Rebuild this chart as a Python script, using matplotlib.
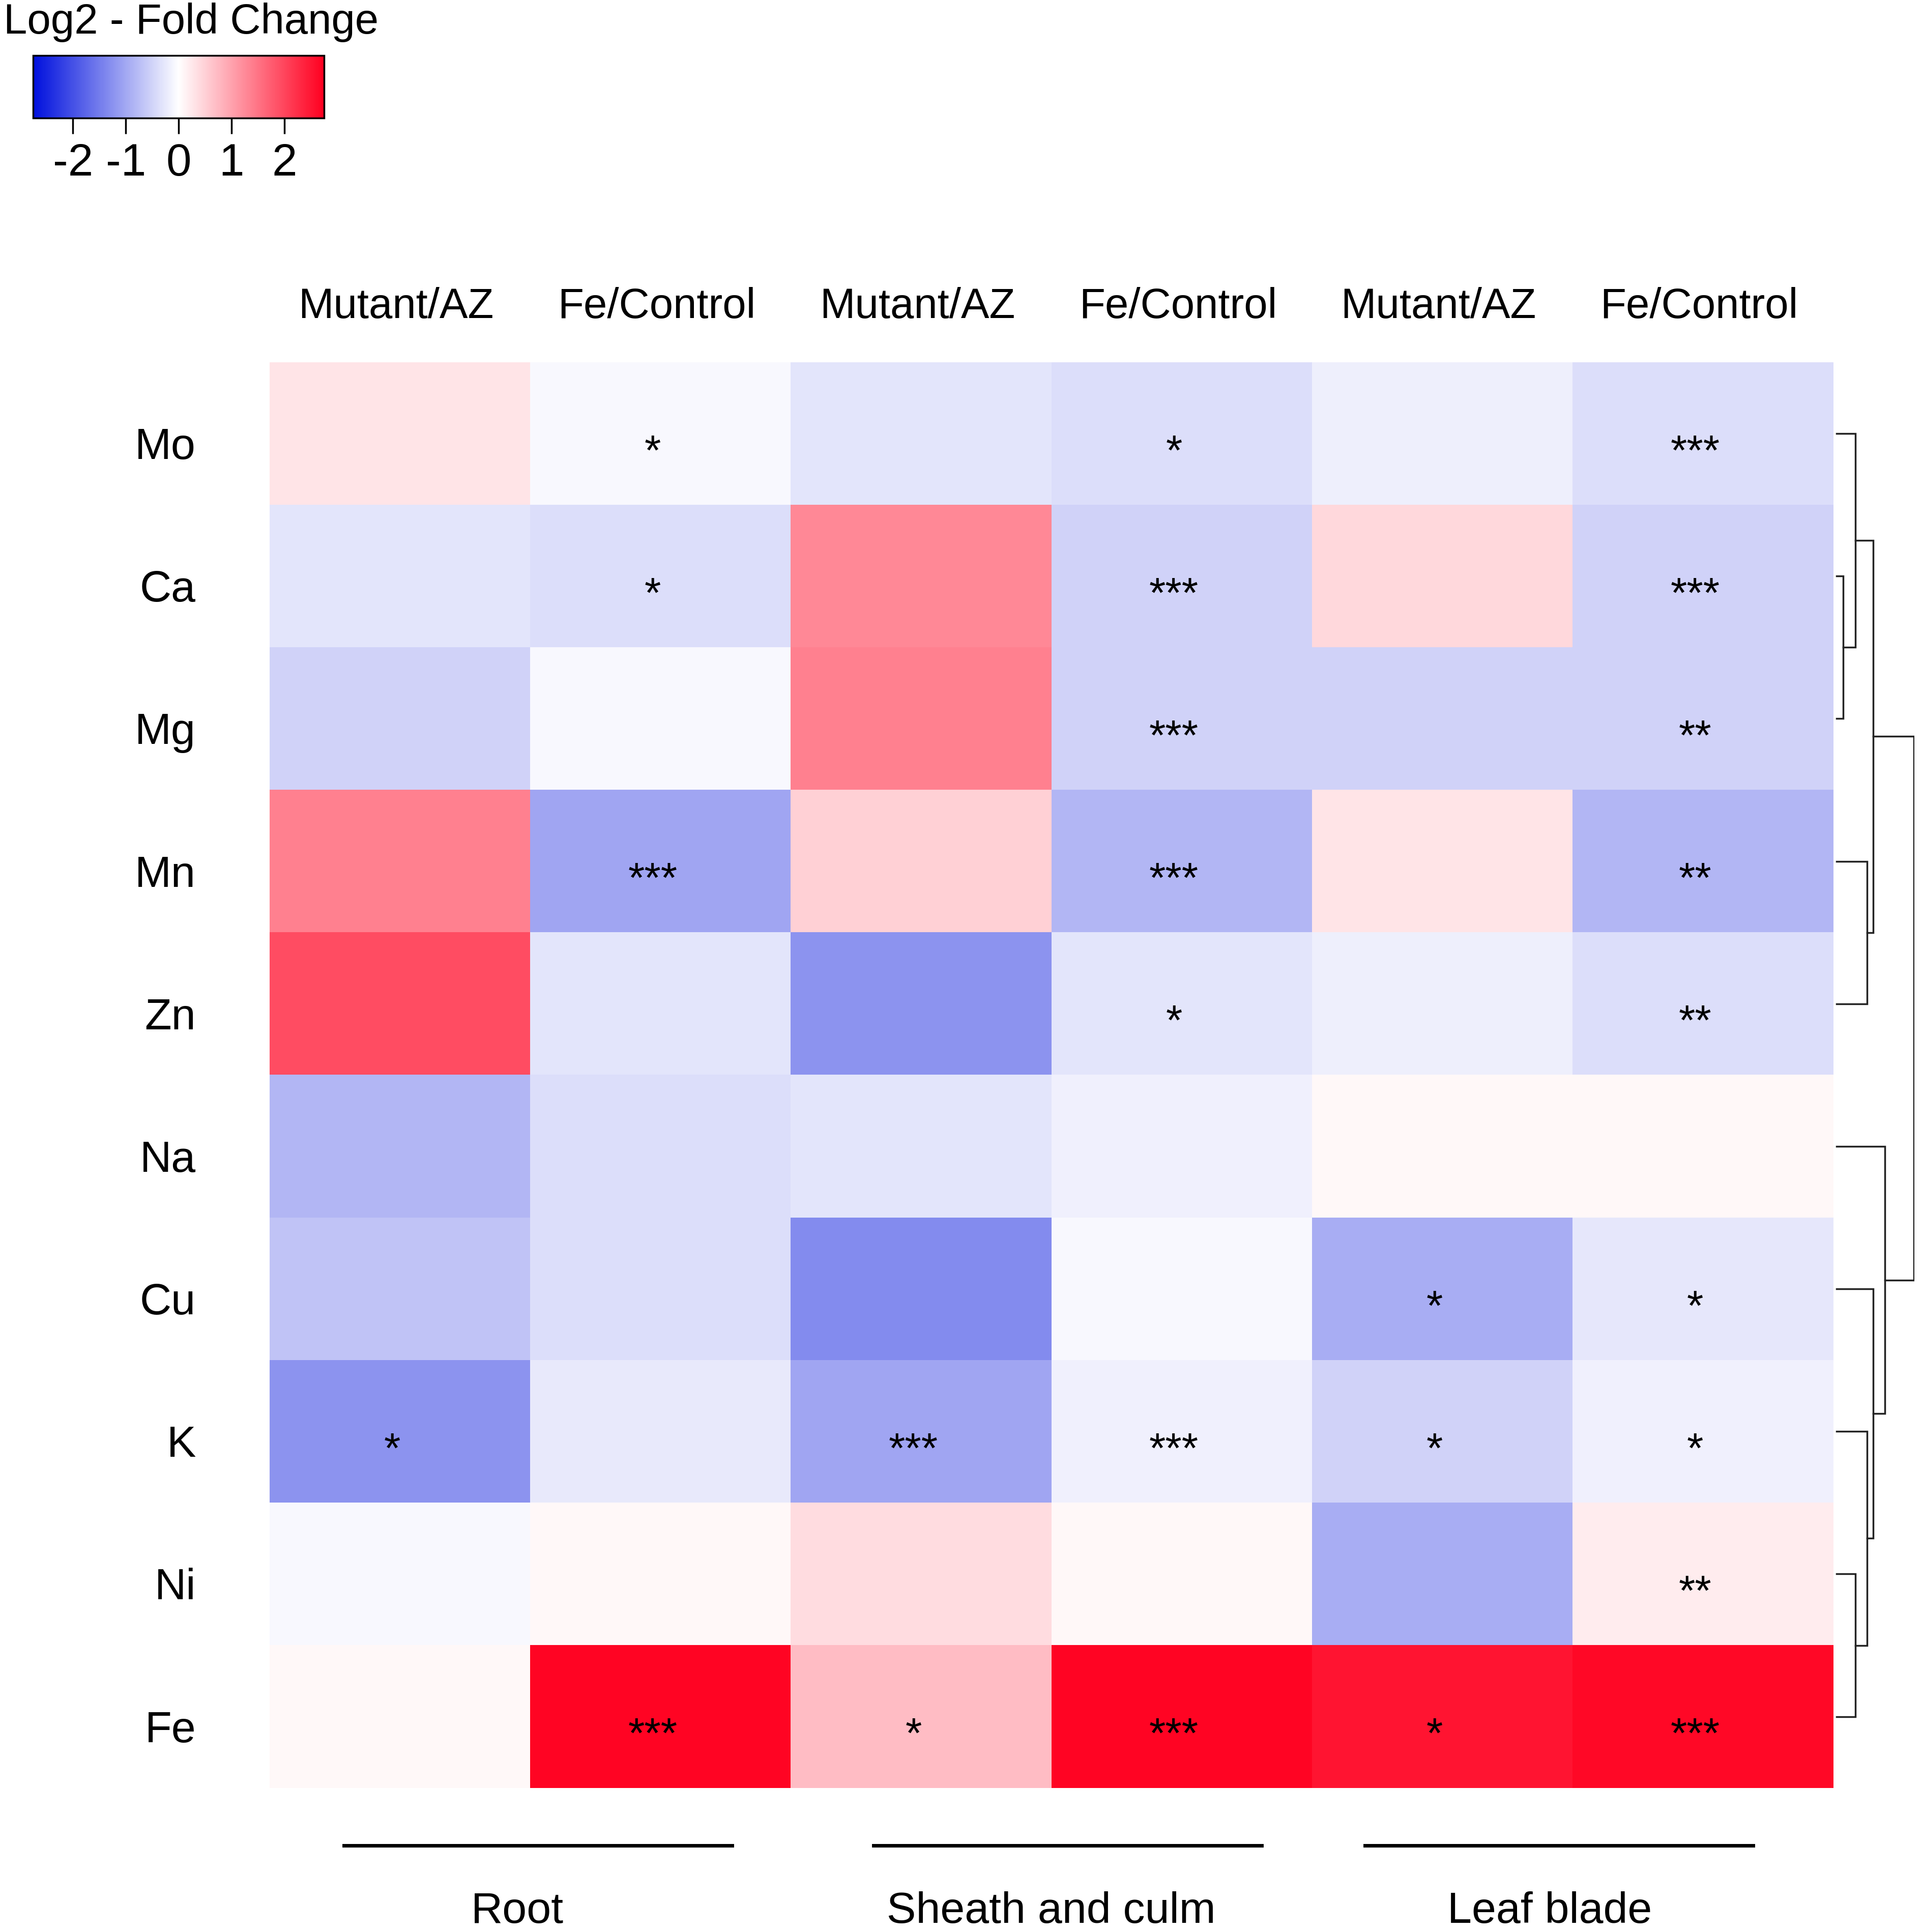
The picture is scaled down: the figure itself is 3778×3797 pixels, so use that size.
import numpy as np
import matplotlib
matplotlib.use('Agg')
import matplotlib.pyplot as plt
from matplotlib.colors import LinearSegmentedColormap, Normalize
from matplotlib.colorbar import ColorbarBase

plt.rcParams['font.family'] = ['Liberation Sans', 'DejaVu Sans']

# data
elements = ['Mo', 'Ca', 'Mg', 'Mn', 'Zn', 'Na', 'Cu', 'K', 'Ni', 'Fe']
columns = ['Mutant/AZ', 'Fe/Control', 'Mutant/AZ', 'Fe/Control', 'Mutant/AZ', 'Fe/Control']
tissues = ['Root', 'Sheath and culm', 'Leaf blade']

log2fc = np.array([
    [0.29, -0.07, -0.29, -0.38, -0.18, -0.38],   # Mo
    [-0.29, -0.38, 1.28, -0.51, 0.42, -0.51],    # Ca
    [-0.51, -0.07, 1.37, -0.51, -0.51, -0.51],   # Mg
    [1.37, -1.02, 0.51, -0.83, 0.29, -0.83],     # Mn
    [1.93, -0.29, -1.24, -0.29, -0.18, -0.38],   # Zn
    [-0.83, -0.38, -0.29, -0.16, 0.07, 0.07],    # Na
    [-0.68, -0.38, -1.33, -0.07, -0.94, -0.27],  # Cu
    [-1.24, -0.25, -1.02, -0.16, -0.51, -0.16],  # K
    [-0.08, 0.07, 0.38, 0.07, -0.94, 0.20],      # Ni
    [0.07, 2.70, 0.72, 2.70, 2.53, 2.65],        # Fe
])

signif = [
    ['', '*', '', '*', '', '***'],
    ['', '*', '', '***', '', '***'],
    ['', '', '', '***', '', '**'],
    ['', '***', '', '***', '', '**'],
    ['', '', '', '*', '', '**'],
    ['', '', '', '', '', ''],
    ['', '', '', '', '*', '*'],
    ['*', '', '***', '***', '*', '*'],
    ['', '', '', '', '', '**'],
    ['', '***', '*', '***', '*', '***'],
]

# row dendrogram: (left, right, height); ids >= 10 are earlier merges
linkage = [
    (1, 2, 0.13),    # 10 Ca-Mg
    (0, 10, 0.38),   # 11 Mo
    (3, 4, 0.61),    # 12 Mn-Zn
    (11, 12, 0.73),  # 13
    (8, 9, 0.38),    # 14 Ni-Fe
    (7, 14, 0.61),   # 15 K
    (6, 15, 0.73),   # 16 Cu
    (5, 16, 0.97),   # 17 Na
    (13, 17, 1.55),  # 18 root
]

W, H = 1560.0, 1568.0
fig = plt.figure(figsize=(37.78, 37.97), dpi=100)

cmap = LinearSegmentedColormap.from_list('bwr2', ['#0010DD', '#FFFFFF', '#FF0020'])
norm = Normalize(vmin=-2.75, vmax=2.75)

# heatmap
hx0, hx1, hy0, hy1 = 219 / W, 1488 / W, 1 - 1451 / H, 1 - 294 / H
ax = fig.add_axes([hx0, hy0, hx1 - hx0, hy1 - hy0])
nr, nc = log2fc.shape
ax.imshow(log2fc, cmap=cmap, norm=norm, aspect='auto', interpolation='nearest',
          extent=(0, nc, nr, 0))
for i in range(nr):
    for j in range(nc):
        if signif[i][j]:
            ax.text(j + 0.47, i + 0.64, signif[i][j], ha='center', va='center',
                    fontsize=60, color='black')
ax.set_xlim(0, nc)
ax.set_ylim(nr, 0)
ax.axis('off')

# column labels
for j, lab in enumerate(columns):
    fig.text(hx0 + (j + 0.485) * (hx1 - hx0) / nc, 1 - 249 / H, lab,
             ha='center', va='center', fontsize=60)
# row labels
for i, lab in enumerate(elements):
    fig.text(159 / W, hy1 - (i + 0.6) * (hy1 - hy0) / nr, lab,
             ha='right', va='center', fontsize=62)

# dendrogram
dax = fig.add_axes([1490 / W, hy0, (1554 - 1490) / W, hy1 - hy0])
pos = {k: k + 0.5 for k in range(nr)}
hgt = {k: 0.0 for k in range(nr)}
for n, (a, b, h) in enumerate(linkage):
    node = nr + n
    dax.plot([hgt[a], h, h, hgt[b]], [pos[a], pos[a], pos[b], pos[b]],
             color='#222222', lw=2.5, solid_joinstyle='miter')
    pos[node] = (pos[a] + pos[b]) / 2
    hgt[node] = h
dax.set_xlim(-0.02, 1.57)
dax.set_ylim(nr, 0)
dax.axis('off')

# colorbar
cax = fig.add_axes([27 / W, 1 - 96 / H, (263 - 27) / W, (96 - 45) / H])
cb = ColorbarBase(cax, cmap=cmap, norm=norm, orientation='horizontal',
                  ticks=[-2, -1, 0, 1, 2])
cb.outline.set_linewidth(2.5)
cax.tick_params(axis='x', direction='out', length=22, width=2.5,
                labelsize=64, pad=12)
cax.set_xticklabels(['-2', '-1', '0', '1', '2'])
fig.text(3 / W, 1 - 2 / H, 'Log2 - Fold Change', ha='left', va='top', fontsize=60)

# tissue groups
seg = [(279, 594), (709, 1024), (1108, 1423)]
label_x = [420, 853, 1258]
for (x0, x1), lx, lab in zip(seg, label_x, tissues):
    fig.add_artist(plt.Line2D([x0 / W, x1 / W], [1 - 1498 / H, 1 - 1498 / H],
                              color='black', lw=5))
    fig.text(lx / W, 1 - 1535 / H, lab, ha='center', va='top', fontsize=62)

fig.savefig('out.png', dpi=100, facecolor='white')
